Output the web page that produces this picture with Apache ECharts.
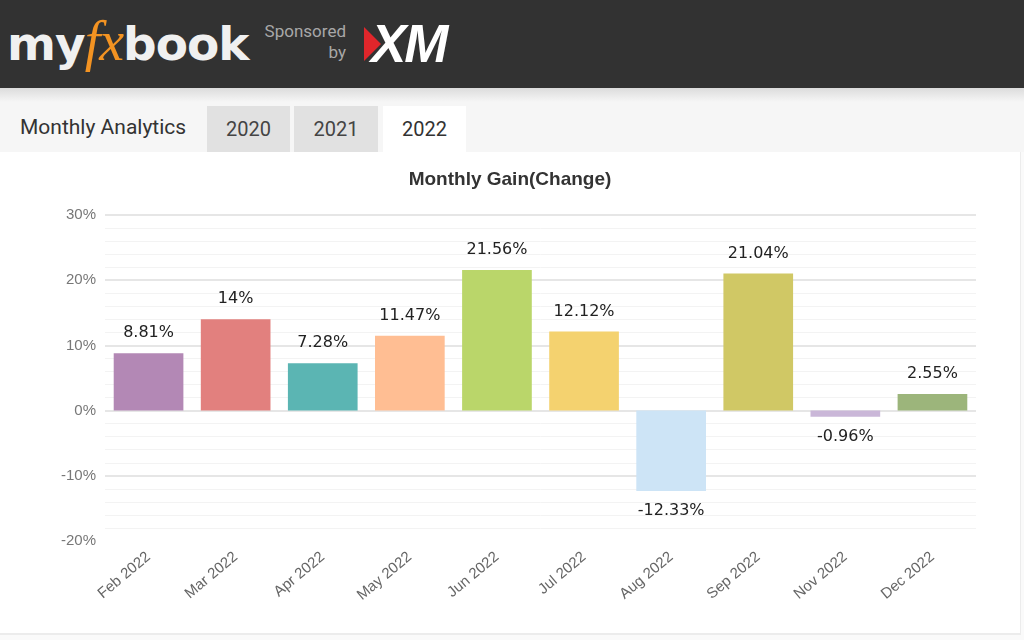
<!DOCTYPE html>
<html>
<head>
<meta charset="utf-8">
<script src="https://cdn.jsdelivr.net/npm/echarts@6/dist/echarts.min.js"></script>
<style>
    html, body {margin:0;padding:0;width:1024px;height:640px;overflow:hidden;background:#fafafa;font-family:Roboto, "Liberation Sans", sans-serif;}
    .topbar {position:absolute;left:0;top:0;width:1024px;height:88px;background:#323232;}
    .logo {position:absolute;left:7px;top:9px;font-family:"DejaVu Sans", sans-serif;font-weight:bold;font-size:47px;color:#f0f0f0;letter-spacing:-1px;}
    .logo .fx {color:#f39322;font-style:italic;font-family:"Liberation Serif", serif;font-weight:normal;font-size:56px;}
    .sponsor {position:absolute;left:258px;top:21px;color:#a8a8a8;font-size:17px;line-height:21px;text-align:right;width:88px;}
    .xm-arrow {position:absolute;left:364px;top:27px;width:0;height:0;border-top:17px solid transparent;border-bottom:17px solid transparent;border-left:17px solid #e0262b;}
    .xm {position:absolute;left:371px;top:13px;color:#fff;font-family:"Liberation Sans", sans-serif;font-weight:bold;font-style:italic;font-size:53px;letter-spacing:-2px;}
    .shade {position:absolute;left:0;top:88px;width:1024px;height:14px;background:linear-gradient(#dcdcdc,#f6f6f6);}
    .tabrow {position:absolute;left:0;top:102px;width:1024px;height:50px;background:#f6f6f6;}
    .tab-title {position:absolute;left:20px;top:115px;font-size:21px;color:#333;}
    .tab {position:absolute;top:106px;height:46px;line-height:46px;text-align:center;font-size:20px;color:#444;background:#e1e1e1;}
    .tab.on {background:#fff;color:#333;}
    .panel {position:absolute;left:0;top:152px;width:1020px;height:481px;background:#fff;border-right:1px solid #ececec;border-bottom:2px solid #ececec;}
    #chart {position:absolute;left:0;top:152px;width:1020px;height:481px;}
</style>
</head>
<body>
<div class="topbar">
    <div class="logo">my<span class="fx">fx</span>book</div>
    <div class="sponsor">Sponsored<br>by</div>
    <div class="xm-arrow"></div>
    <div class="xm">XM</div>
</div>
<div class="shade"></div>
<div class="tabrow"></div>
<div class="tab-title">Monthly Analytics</div>
<div class="tab" style="left:207px;width:83px;">2020</div>
<div class="tab" style="left:294px;width:84px;">2021</div>
<div class="tab on" style="left:383px;width:83px;">2022</div>
<div class="panel"></div>
<div id="chart"></div>

<script>
    var months = ['Feb 2022', 'Mar 2022', 'Apr 2022', 'May 2022', 'Jun 2022', 'Jul 2022', 'Aug 2022', 'Sep 2022', 'Nov 2022', 'Dec 2022'];
    var gains = [8.81, 14, 7.28, 11.47, 21.56, 12.12, -12.33, 21.04, -0.96, 2.55];
    var barColors = ['#b388b5', '#e2807e', '#5bb5b3', '#ffbe93', '#bad66a', '#f4d26f', '#cde4f6', '#d0c865', '#cab7d8', '#9cb57b'];
    var yTicks = [-20, -10, 0, 10, 20, 30];

    var chart = echarts.init(document.getElementById('chart'));

    // 负值标签放在柱子下方
    var barData = gains.map(function (v, i) {
        return {
            value: v,
            itemStyle: {color: barColors[i]},
            label: {position: v < 0 ? 'bottom' : 'top', distance: v < 0 ? 12 : 12}
        };
    });

    var option = {
        animation: false,
        title: {
            text: 'Monthly Gain(Change)',
            left: 'center',
            top: 13,
            textStyle: {fontFamily: 'Liberation Sans', fontSize: 19, fontWeight: 'bold', color: '#333'}
        },
        grid: {left: 105, right: 44, top: 63, bottom: 92},
        xAxis: {
            type: 'category',
            data: months,
            axisLine: {show: false, onZero: false},
            axisTick: {show: false},
            axisLabel: {
                rotate: 40,
                interval: 0,
                margin: 14,
                color: '#666',
                fontSize: 15,
                fontFamily: 'Liberation Sans'
            }
        },
        yAxis: {
            type: 'value',
            min: yTicks[0],
            max: yTicks[yTicks.length - 1],
            interval: 10,
            axisLabel: {
                formatter: '{value}%',
                color: '#777',
                fontSize: 15,
                margin: 9,
                fontFamily: 'Liberation Sans'
            },
            axisLine: {show: false},
            axisTick: {show: false},
            splitLine: {
                lineStyle: {
                    color: yTicks.map(function (t) { return t === yTicks[0] ? 'rgba(0,0,0,0)' : '#e6e6e6'; }),
                    width: 2
                }
            },
            minorTick: {show: false, splitNumber: 5},
            minorSplitLine: {show: true, lineStyle: {color: '#f3f3f3', width: 1}}
        },
        series: [{
            type: 'bar',
            data: barData,
            barCategoryGap: '20%',
            label: {
                show: true,
                formatter: function (p) { return p.value + '%'; },
                color: '#222',
                fontSize: 16,
                fontFamily: 'DejaVu Sans'
            }
        }]
    };
    chart.setOption(option);
</script>
</body>
</html>
